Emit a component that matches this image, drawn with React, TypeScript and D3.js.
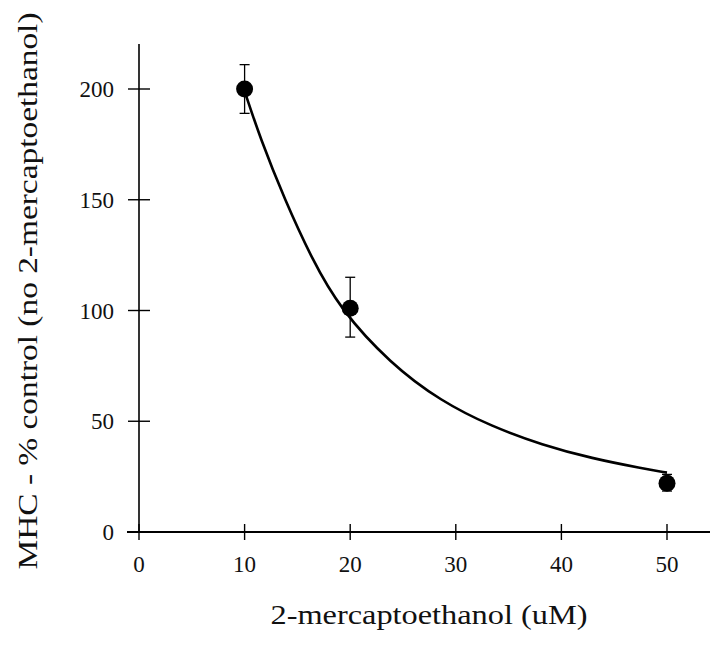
import React from 'react';
import * as d3 from 'd3';

const W = 710;
const H = 648;

// measured points with error bars
const doses = [10, 20, 50];
const mhc = [200, 101, 22];
const errLow = [189, 88, 18.5];
const errHigh = [211, 115, 26];

// fitted curve
const fitX = [10, 11.5, 13.8, 16.4, 19, 23.8, 28.6, 33.4, 38.2, 42.9, 47.7, 50];
const fitY = [199, 177.5, 150, 123, 101, 76, 59, 47.6, 39.3, 33.2, 28.7, 26.8];

const xTicks = [0, 10, 20, 30, 40, 50];
const yTicks = [0, 50, 100, 150, 200];

const font = '"Liberation Serif", "DejaVu Serif", serif';

export default function App() {
  const x = d3.scaleLinear().domain([0, 50]).range([139, 667]);
  const y = d3.scaleLinear().domain([0, 200]).range([532, 89]);

  const line = d3
    .line<number>()
    .x((d) => x(d))
    .y((_, i) => y(fitY[i]))
    .curve(d3.curveBasis);

  return (
    <svg
      width={W}
      height={H}
      style={{ position: 'absolute', left: 0, top: 0, background: '#fff' }}
      fontFamily={font}
    >
      {/* axes */}
      <line x1={x(0)} x2={x(0)} y1={44} y2={y(0)} stroke="#000" strokeWidth={1.6} />
      <line x1={127} x2={W} y1={y(0)} y2={y(0)} stroke="#000" strokeWidth={2} />

      {yTicks.map((t) => (
        <g key={'y' + t}>
          <line x1={x(0) - 11} x2={x(0) + 11} y1={y(t)} y2={y(t)} stroke="#000" strokeWidth={1.4} />
          <text x={114} y={y(t)} dy="0.35em" textAnchor="end" fontSize={23} fill="#111">
            {t}
          </text>
        </g>
      ))}

      {xTicks.map((t) => (
        <g key={'x' + t}>
          <line x1={x(t)} x2={x(t)} y1={y(0) - 8} y2={y(0) + 8} stroke="#000" strokeWidth={1.4} />
          <text x={x(t)} y={572} textAnchor="middle" fontSize={23} fill="#111">
            {t}
          </text>
        </g>
      ))}

      {/* fitted curve */}
      <path d={line(fitX) || ''} fill="none" stroke="#000" strokeWidth={2.6} />

      {/* error bars and points */}
      {doses.map((d, i) => (
        <g key={'p' + d}>
          <line x1={x(d)} x2={x(d)} y1={y(errLow[i])} y2={y(errHigh[i])} stroke="#000" strokeWidth={1.3} />
          <line x1={x(d) - 5} x2={x(d) + 5} y1={y(errLow[i])} y2={y(errLow[i])} stroke="#000" strokeWidth={1.3} />
          <line x1={x(d) - 5} x2={x(d) + 5} y1={y(errHigh[i])} y2={y(errHigh[i])} stroke="#000" strokeWidth={1.3} />
          <circle cx={x(d)} cy={y(mhc[i])} r={8.5} fill="#000" />
        </g>
      ))}

      {/* axis titles */}
      <text
        x={429}
        y={624}
        textAnchor="middle"
        fontSize={28}
        fill="#111"
        textLength={317}
        lengthAdjust="spacingAndGlyphs"
      >
        2-mercaptoethanol (uM)
      </text>
      <text
        transform={`translate(37, 291) rotate(-90)`}
        textAnchor="middle"
        fontSize={28}
        fill="#111"
        textLength={557}
        lengthAdjust="spacingAndGlyphs"
      >
        MHC - % control (no 2-mercaptoethanol)
      </text>
    </svg>
  );
}
